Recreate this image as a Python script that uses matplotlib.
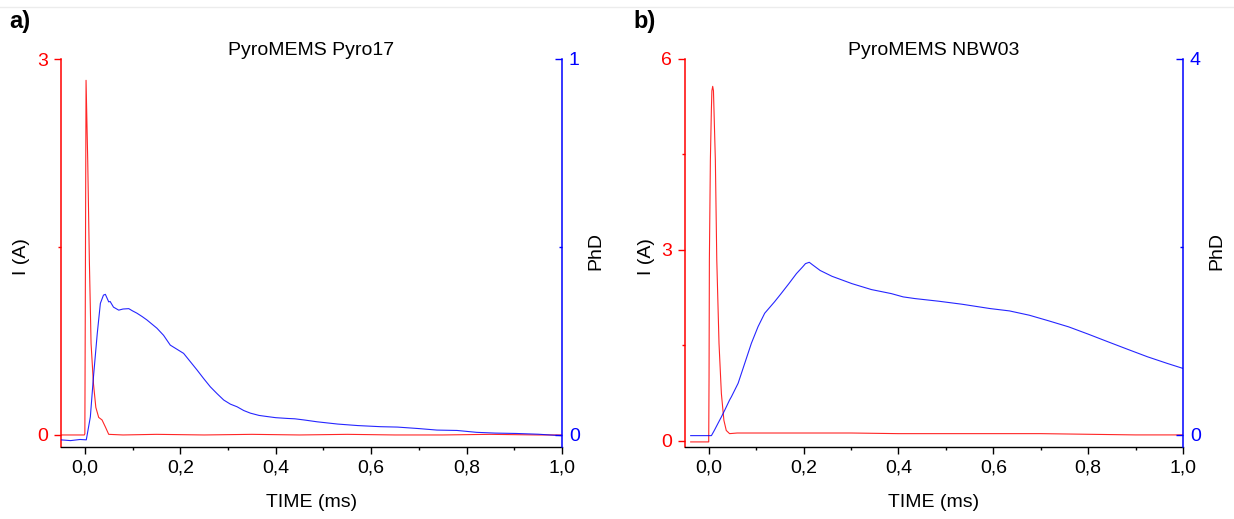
import matplotlib
matplotlib.use("Agg")
import matplotlib.pyplot as plt
from matplotlib.ticker import FixedLocator, FuncFormatter
from matplotlib.lines import Line2D

plt.rcParams['font.family'] = ['Liberation Sans', 'DejaVu Sans']

# ---------------- data ----------------
# Panel a) PyroMEMS Pyro17
time_a_I = [-0.05, -0.001, 0.0, 0.0025, 0.006, 0.0094, 0.013, 0.018, 0.023, 0.029,
            0.036, 0.043, 0.05, 0.08, 0.15, 0.25, 0.35, 0.45, 0.55, 0.65, 0.75,
            0.85, 0.95, 1.0]
current_a = [0.0, 0.0, 0.01, 2.83, 2.19, 1.40, 0.73, 0.41, 0.22, 0.14,
             0.12, 0.064, 0.005, 0.0, 0.005, 0.0, 0.005, 0.0, 0.005, 0.0, 0.0,
             0.005, 0.0, 0.0]

time_a_P = [-0.05, -0.03, -0.01, 0.003, 0.0115, 0.018, 0.026, 0.0325, 0.039, 0.043,
            0.05, 0.053, 0.06, 0.071, 0.08, 0.092, 0.1, 0.109, 0.12, 0.13,
            0.151, 0.165, 0.179, 0.193, 0.207, 0.221, 0.235, 0.249, 0.263, 0.277,
            0.291, 0.305, 0.319, 0.333, 0.347, 0.365, 0.382, 0.40, 0.424, 0.44,
            0.459, 0.487, 0.53, 0.572, 0.62, 0.655, 0.70, 0.738, 0.78, 0.821,
            0.86, 0.904, 0.95, 1.0]
phd_a = [-0.013, -0.015, -0.012, -0.013, 0.048, 0.154, 0.27, 0.35, 0.372, 0.374,
         0.354, 0.355, 0.34, 0.332, 0.335, 0.336, 0.33, 0.324, 0.315, 0.306,
         0.284, 0.265, 0.239, 0.228, 0.217, 0.195, 0.173, 0.15, 0.128, 0.11,
         0.093, 0.082, 0.075, 0.065, 0.058, 0.052, 0.049, 0.046, 0.044, 0.043,
         0.04, 0.035, 0.029, 0.025, 0.022, 0.021, 0.017, 0.013, 0.012, 0.007,
         0.005, 0.004, 0.002, -0.002]

# Panel b) PyroMEMS NBW03
time_b_I = [-0.038, 0.0, 0.0007, 0.0014, 0.0035, 0.0056, 0.0067, 0.0084, 0.010,
            0.014, 0.017, 0.0217, 0.0267, 0.032, 0.037, 0.044, 0.06, 0.1, 0.2,
            0.3, 0.4, 0.5, 0.6, 0.7, 0.8, 0.9, 1.0]
current_b = [-0.02, -0.02, 1.0, 2.84, 4.41, 5.2, 5.5, 5.57, 5.5,
             4.41, 2.84, 1.53, 0.74, 0.32, 0.16, 0.11, 0.12, 0.12, 0.12,
             0.12, 0.11, 0.11, 0.11, 0.11, 0.10, 0.09, 0.09]

time_b_P = [-0.038, 0.0057, 0.012, 0.0196, 0.027, 0.034, 0.044, 0.048, 0.062, 0.076,
            0.09, 0.104, 0.118, 0.139, 0.152, 0.169, 0.185, 0.198, 0.204, 0.212,
            0.219, 0.235, 0.26, 0.302, 0.343, 0.385, 0.41, 0.435, 0.485, 0.534,
            0.593, 0.634, 0.676, 0.717, 0.759, 0.8, 0.842, 0.884, 0.925, 0.967, 1.0]
phd_b = [-0.007, -0.007, 0.05, 0.124, 0.195, 0.266, 0.372, 0.408, 0.55, 0.763,
         0.976, 1.152, 1.295, 1.418, 1.5, 1.61, 1.717, 1.788, 1.823, 1.837,
         1.81, 1.75, 1.688, 1.61, 1.547, 1.504, 1.469, 1.451, 1.423, 1.391,
         1.345, 1.32, 1.274, 1.214, 1.15, 1.073, 0.991, 0.91, 0.832, 0.761, 0.708]

titles = ["PyroMEMS Pyro17", "PyroMEMS NBW03"]
panel_tags = ["a)", "b)"]
x_major = [0.0, 0.2, 0.4, 0.6, 0.8, 1.0]
x_minor = [0.1, 0.3, 0.5, 0.7, 0.9]
left_major = [[0, 3], [0, 3, 6]]
left_minor = [[1.5], [1.5, 4.5]]
right_major = [[0, 1], [0, 4]]
right_minor = [[0.5], [2]]
left_lim = [(-0.096, 3), (-0.1, 6)]
right_lim = [(-0.032, 1), (-0.128, 4)]

RED = '#ff0000'
BLUE = '#0000ff'
FS = 14

W, H = 1234, 519
fig = plt.figure(figsize=(W / 100, H / 100), dpi=100)

boxes = [(61, 562), (685, 1183)]
top_px, bot_px = 59, 447

series = [(time_a_I, current_a, time_a_P, phd_a),
          (time_b_I, current_b, time_b_P, phd_b)]

comma = FuncFormatter(lambda v, p: f"{v:.1f}".replace('.', ','))
intfmt = FuncFormatter(lambda v, p: f"{v:g}")

for i, (x0, x1) in enumerate(boxes):
    ax = fig.add_axes([x0 / W, (H - bot_px) / H, (x1 - x0) / W, (bot_px - top_px) / H])
    ax2 = ax.twinx()
    tI, I, tP, P = series[i]
    ax.plot(tI, I, color=RED, lw=0.8, alpha=0.85)
    ax2.plot(tP, P, color=BLUE, lw=0.8, alpha=0.85)

    ax.set_xlim(-0.05, 1.0)
    ax.set_ylim(*left_lim[i])
    ax2.set_ylim(*right_lim[i])

    for s in ['top', 'right']:
        ax.spines[s].set_visible(False)
    for s in ['top', 'left', 'bottom']:
        ax2.spines[s].set_visible(False)
    ax.spines['left'].set_color(RED)
    ax.spines['left'].set_linewidth(1.1)
    ax.spines['bottom'].set_linewidth(1.0)
    ax2.spines['right'].set_color(BLUE)
    ax2.spines['right'].set_linewidth(1.1)

    ax.xaxis.set_major_locator(FixedLocator(x_major))
    ax.xaxis.set_minor_locator(FixedLocator(x_minor))
    ax.xaxis.set_major_formatter(comma)
    ax.tick_params(axis='x', which='major', direction='out', length=5, width=1.0,
                   labelsize=FS, pad=4)
    ax.tick_params(axis='x', which='minor', direction='out', length=2.5, width=1.0)

    ax.yaxis.set_major_locator(FixedLocator(left_major[i]))
    ax.yaxis.set_minor_locator(FixedLocator(left_minor[i]))
    ax.yaxis.set_major_formatter(intfmt)
    ax.tick_params(axis='y', which='major', direction='out', length=5, width=1.0,
                   color=RED, labelcolor=RED, labelsize=FS, pad=4.5)
    ax.tick_params(axis='y', which='minor', direction='out', length=2.5, width=1.0,
                   color=RED)

    ax2.yaxis.set_major_locator(FixedLocator(right_major[i]))
    ax2.yaxis.set_minor_locator(FixedLocator(right_minor[i]))
    ax2.yaxis.set_major_formatter(intfmt)
    ax2.tick_params(axis='y', which='major', direction='in', length=5, width=1.0,
                    color=BLUE, labelcolor=BLUE, labelsize=FS, pad=5)
    ax2.tick_params(axis='y', which='minor', direction='in', length=2.5, width=1.0,
                    color=BLUE)

    ax.set_xlabel('TIME (ms)', fontsize=FS, va='center')
    ax.xaxis.set_label_coords(0.5, -0.144)
    ax.set_ylabel('I (A)', fontsize=FS, va='center')
    ax.yaxis.set_label_coords(-0.078, 0.49)
    ax2.set_ylabel('PhD', fontsize=FS, va='center', rotation=90)
    ax2.yaxis.set_label_coords(1.068, 0.505)

    ax.set_title(titles[i], fontsize=FS, y=1.023, va='center', pad=0)

    tag_x = [20, 645][i]
    fig.text(tag_x / W, 1 - 22 / H, panel_tags[i], fontsize=17, fontweight='bold',
             ha='center', va='center')

# faint border line at the very top
fig.add_artist(Line2D([0, 1], [1 - 7 / H, 1 - 7 / H], transform=fig.transFigure,
                      color='#ececec', lw=1.0))

fig.savefig('out.png', dpi=100)
